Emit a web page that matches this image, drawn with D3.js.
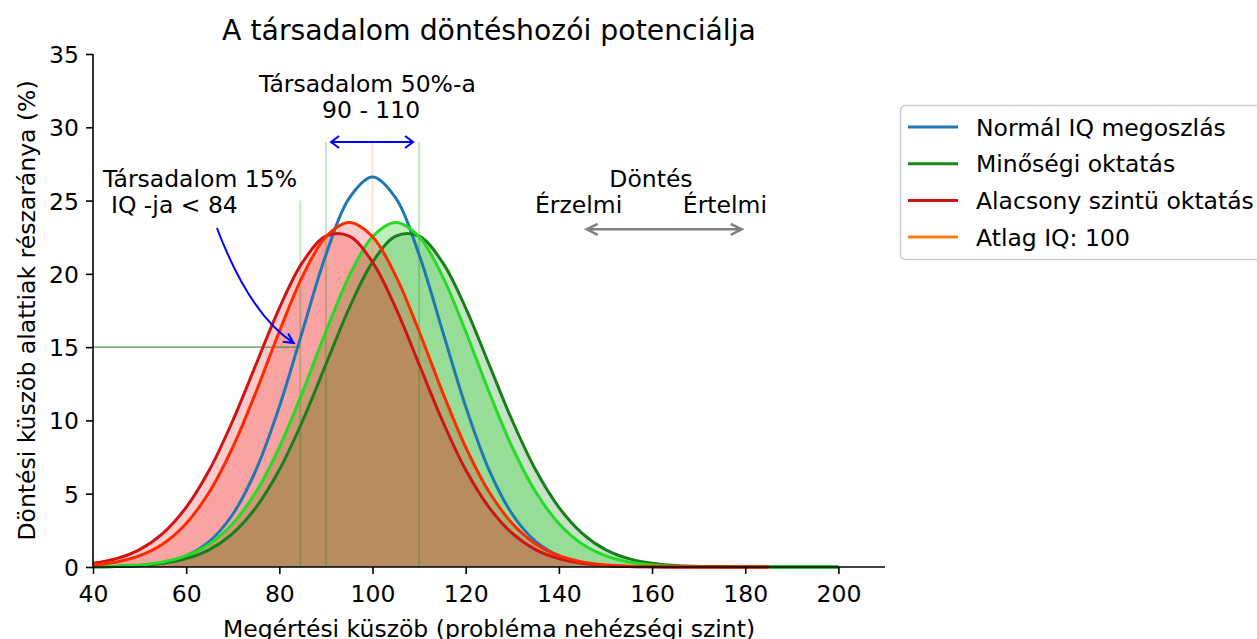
<!DOCTYPE html>
<html>
<head>
<meta charset="utf-8">
<script src="https://cdn.jsdelivr.net/npm/d3@7"></script>
<style>
  html, body { margin: 0; padding: 0; background: #fff; }
  svg { display: block; font-family: "DejaVu Sans", sans-serif; }
</style>
</head>
<body>
<svg id="chart" width="1257" height="639"></svg>
<script>
// ---------- data ----------
const iq = [40,45,50,55,60,65,70,75,80,85,90,95,100,105,110,115,120,125,130,135,140,145,150,155,160,165,170,175,180,185,190,195,200];
const normalIQ = [0.01,0.03,0.10,0.30,0.76,1.75,3.60,6.63,10.94,16.13,21.30,25.16,26.6,25.16,21.30,16.13,10.94,6.63,3.60,1.75,0.76,0.30,0.10,0.03,0.01,0,0,0,0,0,0,0,0];
const qualityEdu = [0.01,0.04,0.10,0.25,0.57,1.19,2.30,4.07,6.63,9.98,13.83,17.67,20.80,22.57,22.57,20.80,17.67,13.83,9.98,6.63,4.07,2.30,1.19,0.57,0.25,0.10,0.04,0.01,0,0,0,0,0];
const qualityEduB = [0.02,0.05,0.14,0.34,0.77,1.57,2.97,5.13,8.17,11.95,16.07,19.85,22.53,23.5,22.53,19.85,16.07,11.95,8.17,5.13,2.97,1.57,0.77,0.34,0.14,0.05,0.02,0,0,0,0,0,0];
const lowEdu = [0.25,0.57,1.19,2.30,4.07,6.63,9.98,13.83,17.67,20.80,22.57,22.57,20.80,17.67,13.83,9.98,6.63,4.07,2.30,1.19,0.57,0.25,0.10,0.04,0.01,0,0,0,0,0,null,null,null];
const lowEduB = [0.14,0.34,0.77,1.57,2.97,5.13,8.17,11.95,16.07,19.85,22.53,23.5,22.53,19.85,16.07,11.95,8.17,5.13,2.97,1.57,0.77,0.34,0.14,0.05,0.02,0,0,0,0,0,null,null,null];

const xTicks = [40,60,80,100,120,140,160,180,200];
const yTicks = [0,5,10,15,20,25,30,35];

const legendLabels = ["Normál IQ megoszlás","Minőségi oktatás","Alacsony szintü oktatás","Atlag IQ: 100"];
const legendColors = ["#1f77b4","#1a851a","#d01414","#ff7f0e"];

// reference lines: [x, yTop, kind]
const vLines = [[84.5,25,"green"],[90,29,"green"],[100,29,"orange"],[110,29,"green"]];
const hLine = {y:15, x0:40, x1:84.5};

// ---------- layout ----------
const FS = "23.5px";
const svg = d3.select("#chart");
const x = d3.scaleLinear().domain([40,210]).range([93,885]);
const y = d3.scaleLinear().domain([0,35]).range([567,54]);

const series = [
  {vals: qualityEdu,  line:"#1a7f1a", fill:"rgb(0,128,0)",  fo:0.22},
  {vals: qualityEduB, line:"#22dd22", fill:"rgb(50,205,50)", fo:0.32},
  {vals: lowEdu,      line:"#d01414", fill:"rgb(240,0,0)",  fo:0.2},
  {vals: lowEduB,     line:"#ff2a00", fill:"rgb(240,0,0)",  fo:0.2},
];

const pts = vals => iq.map((v,i)=>[v, vals[i]]);
const area = d3.area().defined(d=>d[1]!=null).x(d=>x(d[0])).y0(y(0)).y1(d=>y(d[1])).curve(d3.curveCatmullRom);
const line = d3.line().defined(d=>d[1]!=null).x(d=>x(d[0])).y(d=>y(d[1])).curve(d3.curveCatmullRom);

// fills
series.forEach(s=>{
  svg.append("path").attr("d", area(pts(s.vals)))
    .attr("fill", s.fill).attr("fill-opacity", s.fo).attr("stroke","none");
});

// reference lines
vLines.forEach(([vx,vt,c])=>{
  svg.append("line").attr("x1",x(vx)).attr("x2",x(vx)).attr("y1",y(0)).attr("y2",y(vt))
    .attr("stroke", c==="green" ? "rgb(0,128,0)" : "#ff7f0e")
    .attr("stroke-opacity", 0.22).attr("stroke-width",2);
});
svg.append("line").attr("x1",x(hLine.x0)).attr("x2",x(hLine.x1)).attr("y1",y(hLine.y)).attr("y2",y(hLine.y))
  .attr("stroke","#2e8b2e").attr("stroke-opacity",0.85).attr("stroke-width",1.2);

// curve lines
svg.append("path").attr("d", line(pts(normalIQ))).attr("fill","none").attr("stroke","#1f77b4").attr("stroke-width",3);
series.forEach(s=>{
  svg.append("path").attr("d", line(pts(s.vals))).attr("fill","none")
    .attr("stroke", s.line).attr("stroke-width",3).attr("stroke-linejoin","round");
});

// ---------- axes ----------
const gx = svg.append("g").attr("transform",`translate(0,${y(0)})`)
  .call(d3.axisBottom(x).tickValues(xTicks).tickSize(7).tickFormat(d3.format("d")));
const gy = svg.append("g").attr("transform",`translate(${x(40)},0)`)
  .call(d3.axisLeft(y).tickValues(yTicks).tickSize(7).tickFormat(d3.format("d")));
[gx,gy].forEach(g=>{
  g.select(".domain").attr("stroke","#000").attr("stroke-width",1.6);
  g.selectAll(".tick line").attr("stroke","#000").attr("stroke-width",1.6);
  g.selectAll(".tick text").attr("fill","#000").style("font-size",FS).style("font-family","DejaVu Sans");
});
gx.select(".domain").attr("d", `M${x(40)},0H${x(210)}`);
gy.select(".domain").attr("d", `M0,${y(0)}V${y(35)}`);
gx.selectAll(".tick text").attr("y",35).attr("dy",null);
gy.selectAll(".tick text").attr("x",-14).attr("dy","0.36em");

// axis labels
svg.append("text").attr("x", (x(40)+x(210))/2).attr("y", 637).attr("text-anchor","middle")
  .style("font-size",FS).text("Megértési küszöb (probléma nehézségi szint)");
svg.append("text").attr("transform", `translate(35,${(y(0)+y(35))/2}) rotate(-90)`).attr("text-anchor","middle")
  .style("font-size",FS).text("Döntési küszöb alattiak részaránya (%)");

// title
svg.append("text").attr("x", (x(40)+x(210))/2).attr("y", 40).attr("text-anchor","middle")
  .style("font-size","28.3px").text("A társadalom döntéshozói potenciálja");

// ---------- annotations ----------
const texts = [
  {t:"Társadalom 50%-a", x:98.9, y:32.43, a:"middle"},
  {t:"90 - 110", x:99.7, y:30.61, a:"middle"},
  {t:"Társadalom 15%", x:42.15, y:25.95, a:"start"},
  {t:"IQ -ja < 84", x:43.86, y:24.13, a:"start"},
  {t:"Döntés", x:159.77, y:25.95, a:"middle"},
  {t:"Érzelmi", x:134.87, y:24.13, a:"start"},
  {t:"Értelmi", x:184.67, y:24.13, a:"end"},
];
texts.forEach(d=>{
  svg.append("text").attr("x",x(d.x)).attr("y",y(d.y)).attr("text-anchor",d.a)
    .style("font-size",FS).attr("fill","#000").text(d.t);
});

function head(tx,ty,dx,dy,len,hw){
  const L = Math.hypot(dx,dy), ux = dx/L, uy = dy/L, px = -uy, py = ux;
  const bx = tx-ux*len, by = ty-uy*len;
  return `M${bx+px*hw},${by+py*hw}L${tx},${ty}L${bx-px*hw},${by-py*hw}`;
}
// blue double arrow 90-110
const ba = {x0:91.1, x1:108.7, y:29};
{
  const x0=x(ba.x0), x1=x(ba.x1), yy=y(ba.y);
  svg.append("path").attr("d",`M${x0},${yy}H${x1}`+head(x1,yy,1,0,8,6)+head(x0,yy,-1,0,8,6))
    .attr("fill","none").attr("stroke","#0000ff").attr("stroke-width",2);
}
// gray double arrow
const ga = {x0:145.97, x1:179.24, y:23.04};
{
  const x0=x(ga.x0), x1=x(ga.x1), yy=y(ga.y);
  svg.append("path").attr("d",`M${x0},${yy}H${x1}`+head(x1,yy,1,0,11,5.5)+head(x0,yy,-1,0,11,5.5))
    .attr("fill","none").attr("stroke","#808080").attr("stroke-width",2.5);
}
// curved arrow
const ca = {s:[66.6,23.13], c:[73.7,17.19], e:[83.1,15.28]};
{
  const sx=x(ca.s[0]), sy=y(ca.s[1]), cx=x(ca.c[0]), cy=y(ca.c[1]), ex=x(ca.e[0]), ey=y(ca.e[1]);
  svg.append("path").attr("d",`M${sx},${sy}Q${cx},${cy} ${ex},${ey}`+head(ex,ey,ex-cx,ey-cy,10,5))
    .attr("fill","none").attr("stroke","#0000ff").attr("stroke-width",2);
}

// ---------- legend ----------
const lg = svg.append("g");
lg.append("rect").attr("x",900.5).attr("y",105.5).attr("width",380).attr("height",154).attr("rx",5)
  .attr("fill","#fff").attr("fill-opacity",0.8).attr("stroke","#cccccc").attr("stroke-width",1.5);
legendLabels.forEach((l,i)=>{
  const yy = 127 + i*36.7;
  lg.append("line").attr("x1",908).attr("x2",958).attr("y1",yy).attr("y2",yy)
    .attr("stroke",legendColors[i]).attr("stroke-width",3);
  lg.append("text").attr("x",976).attr("y",yy+8.5).style("font-size",FS).attr("fill","#000").text(l);
});
</script>
</body>
</html>
